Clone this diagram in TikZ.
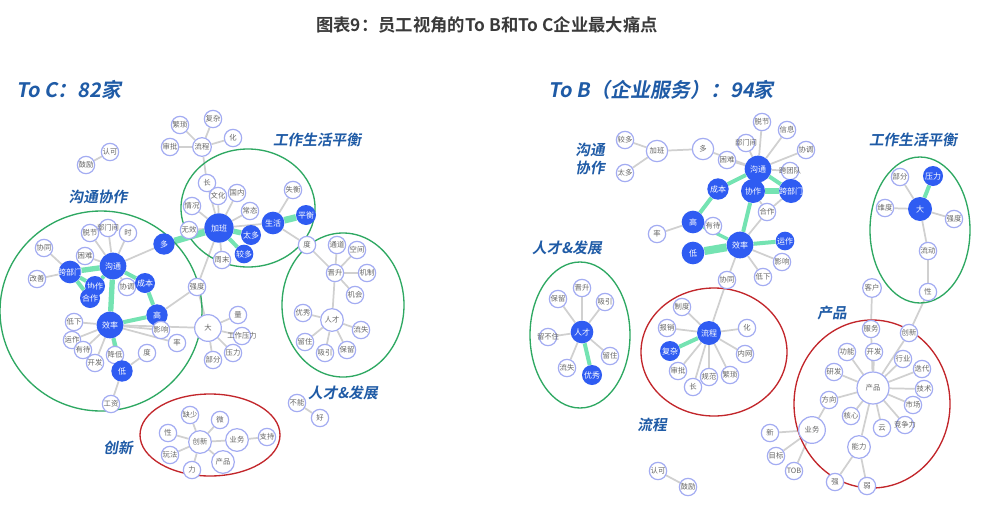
\documentclass[tikz,border=0pt]{standalone}
\usepackage{fontspec}
\setmainfont{Noto Sans CJK SC}[BoldFont={Noto Sans CJK SC Bold}]
\newfontfamily\headfont{Noto Sans CJK SC Bold}[FakeSlant=0.18]
\usetikzlibrary{graphs,backgrounds}
\definecolor{hubblue}{HTML}{2F5CF2}
\definecolor{ringblue}{HTML}{A3ACF2}
\definecolor{wordgray}{HTML}{666666}
\definecolor{mint}{HTML}{74E3B2}
\definecolor{linkgray}{HTML}{D0D0D0}
\definecolor{headblue}{HTML}{1F5BA6}
\definecolor{okgreen}{HTML}{2EA862}
\definecolor{badred}{HTML}{C2262B}
\definecolor{titlegray}{HTML}{3A3A3A}
\tikzset{
    word/.style={circle, draw=ringblue, line width=0.9pt, fill=white, inner sep=0pt,
        minimum size=#1, text=wordgray, font=\fontsize{5.5}{6}\selectfont},
    word/.default=13pt,
    hub/.style={circle, fill=hubblue, inner sep=0pt, minimum size=#1,
        text=white, font=\fontsize{6}{7}\selectfont},
    hub/.default=15pt,
    link/.style={draw=linkgray, line width=1.3pt},
    bond/.style={draw=mint, line width=#1},
    bond/.default=3pt,
    zone/.style={draw=okgreen, line width=1pt},
    alarm/.style={draw=badred, line width=1pt},
    tag/.style={text=headblue, font=\headfont\fontsize{11}{13}\selectfont},
}

\begin{document}
\begin{tikzpicture}[x=0.75pt, y=-0.75pt]
    \useasboundingbox (0,0) rectangle (1003,529);

    % titles
    \node[text=titlegray, font=\bfseries\fontsize{13}{15}\selectfont] (title) at (487,25) {图表9：员工视角的To B和To C企业最大痛点};
    \node[tag, anchor=west, font=\headfont\fontsize{15}{17}\selectfont] (headC) at (12,90) {To C：82家};
    \node[tag, anchor=west, font=\headfont\fontsize{15}{17}\selectfont] (headB) at (544,90) {To B（企业服务）：94家};

    % ---- To C ----
    \node[tag] (tagCgt) at (98,197) {沟通协作};
    \node[tag] (tagCph) at (317,140) {工作生活平衡};
    \node[tag] (tagCrc) at (343,393) {人才\&发展};
    \node[tag] (tagCcx) at (118,448) {创新};

    \draw[zone] (101,311) ellipse [x radius=101, y radius=100];
    \draw[zone] (248,208) ellipse [x radius=67, y radius=59];
    \draw[zone] (343,305) ellipse [x radius=61, y radius=72];
    \draw[alarm] (210,435) ellipse [x radius=70, y radius=41];

    \node[word] (cRK) at (110,152) {认可};
    \node[word] (cGL) at (86,165) {鼓励};
    \node[word] (cFS) at (180,125) {繁琐};
    \node[word] (cFZ) at (213,119) {复杂};
    \node[word] (cSP) at (170,147) {审批};
    \node[word] (cH) at (233,138) {化};
    \node[word=14pt] (cLC) at (202,147) {流程};
    \node[word] (cC) at (207,183) {长};
    \node[word] (cQK) at (192,206) {情况};
    \node[word] (cWH) at (218,196) {文化};
    \node[word] (cGN) at (237,193) {国内};
    \node[word] (cCT) at (250,211) {常态};
    \node[word] (cWX) at (189,230) {无效};
    \node[hub=22pt] (cJB) at (219,228) {加班};
    \node[hub=15pt] (cTD) at (251,235) {太多};
    \node[hub=14pt] (cJD) at (244,254) {较多};
    \node[word] (cZM) at (222,260) {周末};
    \node[hub=17pt] (cSH) at (273,223) {生活};
    \node[hub=15pt] (cPH) at (306,215) {平衡};
    \node[word] (cSHg) at (293,190) {失衡};
    \node[hub=16pt] (cD) at (164,244) {多};
    \node[word] (cDu) at (307,245) {度};
    \node[word] (cTDo) at (337,245) {通道};
    \node[word] (cKJ) at (357,250) {空间};
    \node[word] (cJS) at (335,273) {晋升};
    \node[word] (cJZ) at (367,273) {机制};
    \node[word] (cJH) at (355,295) {机会};
    \node[word=17pt] (cRC) at (332,320) {人才};
    \node[word] (cYX) at (303,313) {优秀};
    \node[word] (cLS) at (361,330) {流失};
    \node[word] (cLZ) at (305,342) {留住};
    \node[word] (cXY) at (325,353) {吸引};
    \node[word] (cBL) at (347,350) {保留};
    \node[word] (cQD) at (197,287) {强度};
    \node[word=20pt] (cDa) at (208,328) {大};
    \node[word] (cL) at (238,315) {量};
    \node[word] (cGZ) at (242,336) {\makebox[0pt]{工作压力}};
    \node[word] (cYL) at (233,353) {压力};
    \node[word] (cBF) at (213,360) {部分};
    \node[word] (cBN) at (297,403) {不能};
    \node[word] (cHao) at (320,418) {好};
    \node[word] (cXT) at (44,248) {协同};
    \node[word] (cKN) at (85,256) {困难};
    \node[word] (cBM) at (108,228) {\makebox[0pt]{部门间}};
    \node[word] (cShi) at (128,233) {时};
    \node[word] (cTJ) at (90,233) {脱节};
    \node[hub=20pt] (cGT) at (113,266) {沟通};
    \node[hub=17pt] (cKB) at (70,272) {\makebox[0pt]{跨部门}};
    \node[word] (cGS) at (37,279) {改善};
    \node[word] (cXTi) at (127,287) {协调};
    \node[hub=15pt] (cXZ) at (95,286) {协作};
    \node[hub=15pt] (cHZ) at (90,298) {合作};
    \node[hub=15pt] (cCB) at (145,283) {成本};
    \node[hub=16pt] (cGao) at (157,315) {高};
    \node[hub=20pt] (cXL) at (110,325) {效率};
    \node[word] (cDX) at (74,322) {低下};
    \node[word] (cYZ) at (72,340) {运作};
    \node[word] (cYD) at (83,350) {有待};
    \node[word] (cKF) at (95,363) {开发};
    \node[word] (cJDi) at (115,355) {降低};
    \node[hub=16pt] (cDi) at (122,371) {低};
    \node[word] (cDd) at (147,353) {度};
    \node[word] (cYXi) at (161,330) {影响};
    \node[word] (cLv) at (177,343) {率};
    \node[word] (cGZi) at (111,404) {工资};
    \node[word] (cQS) at (190,415) {缺少};
    \node[word] (cW) at (220,420) {微};
    \node[word] (cX) at (168,433) {性};
    \node[word=17pt] (cCX) at (200,442) {创新};
    \node[word=17pt] (cYW) at (237,440) {业务};
    \node[word] (cZC) at (267,437) {支持};
    \node[word] (cWF) at (170,455) {玩法};
    \node[word] (cLi) at (192,470) {力};
    \node[word=17pt] (cCP) at (223,462) {产品};

    % ---- To B ----
    \node[tag, align=center] (tagBgt) at (590,159) {沟通\\协作};
    \node[tag] (tagBrc) at (567,248) {人才\&发展};
    \node[tag] (tagBlc) at (652,425) {流程};
    \node[tag] (tagBph) at (913,140) {工作生活平衡};
    \node[tag] (tagBcp) at (832,313) {产品};

    \draw[zone] (580,335) ellipse [x radius=50, y radius=73];
    \draw[alarm] (714,352) ellipse [x radius=73, y radius=64];
    \draw[zone] (920,230) ellipse [x radius=50, y radius=73];
    \draw[alarm] (872,404) ellipse [x radius=78, y radius=84];

    \node[word] (bJD) at (625,140) {较多};
    \node[word=16pt] (bJB) at (657,151) {加班};
    \node[word] (bTD) at (625,173) {太多};
    \node[word=16pt] (bD) at (703,149) {多};
    \node[word] (bBM) at (746,143) {\makebox[0pt]{部门间}};
    \node[word] (bTJ) at (762,122) {脱节};
    \node[word] (bXX) at (787,130) {信息};
    \node[word] (bXT) at (806,150) {协调};
    \node[word] (bKN) at (727,160) {困难};
    \node[hub=20pt] (bGT) at (758,169) {沟通};
    \node[word] (bKT) at (790,171) {\makebox[0pt]{跨团队}};
    \node[hub=16pt] (bCB) at (718,189) {成本};
    \node[hub=18pt] (bXZ) at (753,191) {协作};
    \node[hub=18pt] (bKB) at (791,191) {\makebox[0pt]{跨部门}};
    \node[word] (bHZ) at (767,212) {合作};
    \node[hub=17pt] (bG) at (693,222) {高};
    \node[word] (bYD) at (713,226) {有待};
    \node[word] (bL) at (657,234) {率};
    \node[hub=20pt] (bXL) at (740,245) {效率};
    \node[hub=14pt] (bYZ) at (785,241) {运作};
    \node[hub=17pt] (bDi) at (693,253) {低};
    \node[word] (bYX) at (782,262) {影响};
    \node[word] (bXTo) at (727,280) {协同};
    \node[word] (bDX) at (763,277) {低下};
    \node[word] (bJS) at (582,288) {晋升};
    \node[word] (bBL) at (558,299) {保留};
    \node[word] (bXY) at (605,302) {吸引};
    \node[hub=17pt] (bRC) at (582,332) {人才};
    \node[word] (bLBZ) at (548,337) {\makebox[0pt]{留不住}};
    \node[word] (bLZ) at (610,356) {留住};
    \node[word] (bLS) at (567,368) {流失};
    \node[hub=15pt] (bYXo) at (592,375) {优秀};
    \node[word] (bZD) at (682,307) {制度};
    \node[word] (bBX) at (667,328) {报销};
    \node[hub=18pt] (bLC) at (709,333) {流程};
    \node[word] (bH) at (747,328) {化};
    \node[hub=15pt] (bFZ) at (670,351) {复杂};
    \node[word] (bNW) at (745,354) {内网};
    \node[word] (bSP) at (678,371) {审批};
    \node[word] (bC) at (693,387) {长};
    \node[word] (bGF) at (709,377) {规范};
    \node[word] (bFS) at (730,375) {繁琐};
    \node[word] (bBF) at (900,177) {部分};
    \node[hub=15pt] (bYL) at (933,176) {压力};
    \node[word] (bWD) at (885,208) {维度};
    \node[hub=18pt] (bDa) at (920,209) {大};
    \node[word] (bQD) at (954,219) {强度};
    \node[word] (bLD) at (928,251) {流动};
    \node[word] (bXing) at (928,292) {性};
    \node[word=14pt] (bKH) at (872,288) {客户};
    \node[word] (bFW) at (871,329) {服务};
    \node[word] (bCX) at (909,333) {创新};
    \node[word] (bGN) at (847,352) {功能};
    \node[word] (bKF) at (874,352) {开发};
    \node[word] (bHY) at (903,359) {行业};
    \node[word] (bDD) at (922,369) {迭代};
    \node[word] (bYF) at (834,372) {研发};
    \node[word=24pt] (bCP) at (873,388) {产品};
    \node[word] (bJSh) at (924,389) {技术};
    \node[word] (bFX) at (829,400) {方向};
    \node[word] (bSC) at (913,405) {市场};
    \node[word] (bHX) at (851,416) {核心};
    \node[word] (bY) at (882,428) {云};
    \node[word] (bJZL) at (905,425) {\makebox[0pt]{竞争力}};
    \node[word=20pt] (bYW) at (812,430) {业务};
    \node[word] (bX) at (770,433) {新};
    \node[word] (bMB) at (776,456) {目标};
    \node[word] (bTOB) at (794,471) {TOB};
    \node[word=17pt] (bNL) at (859,447) {能力};
    \node[word] (bQ) at (835,482) {强};
    \node[word] (bR) at (867,486) {弱};
    \node[word] (bRK) at (658,471) {认可};
    \node[word] (bGL) at (688,487) {鼓励};

    \begin{scope}[on background layer]
        \fill[white] (0,0) rectangle (1003,529);
        \graph[use existing nodes, edges=link] {
            cRK -- cGL;
            cLC -- {cFS, cFZ, cSP, cH, cC};
            cC -- cJB;
            cJB -- {cQK, cWH, cGN, cCT, cWX, cZM, cSH, cQD};
            cSH -- {cSHg, cDu};
            cDu -- cJS;
            cJS -- {cTDo, cKJ, cJZ, cJH, cRC};
            cRC -- {cYX, cLS, cLZ, cXY, cBL};
            cQD -- {cGao, cDa};
            cDa -- {cL, cGZ, cYL, cBF};
            cGT -- {cKN, cBM, cShi, cTJ, cXTi, cD};
            cKB -- {cXT, cGS};
            cXL -- {cDX, cYZ, cYD, cKF, cJDi, cYXi, cLv, cDa};
            cDi -- {cDd, cGZi};
            cBN -- cHao;
            cCX -- {cQS, cW, cX, cWF, cLi, cCP, cYW};
            cYW -- cZC;
            bJD -- bJB; bTD -- bJB; bJB -- bD; bD -- bGT;
            bGT -- {bBM, bTJ, bXX, bXT, bKN, bKT};
            bHZ -- {bKB, bXZ, bXL};
            bG -- {bL, bYD};
            bXL -- {bYX, bDX, bXTo};
            bXTo -- bLC;
            bLC -- {bZD, bBX, bH, bNW, bSP, bC, bGF, bFS};
            bRC -- {bJS, bBL, bXY, bLBZ, bLZ, bLS};
            bDa -- {bBF, bWD, bQD, bLD};
            bLD -- bXing -- bCX;
            bKH -- bFW -- bCP;
            bCP -- {bCX, bGN, bKF, bHY, bDD, bYF, bJSh, bFX, bSC, bHX, bY, bJZL, bNL};
            bFX -- bYW;
            bYW -- {bX, bMB, bTOB};
            bNL -- {bQ, bR};
            bRK -- bGL;
        };
        \graph[use existing nodes] {
            cJB --[bond=5pt] cD;
            cJB --[bond=4pt] cTD;
            cJB --[bond=3pt] cJD;
            cSH --[bond=5pt] cPH;
            cGT --[bond=4pt] cKB;
            cGT --[bond=3pt] cXZ;
            cKB --[bond=3pt] cXZ;
            cKB --[bond=3pt] cHZ;
            cGT --[bond=4pt] cXL;
            cGT --[bond=3pt] cCB;
            cCB --[bond=3pt] cGao;
            cGao --[bond=3pt] cXL;
            cXL --[bond=3pt] cDi;
            bGT --[bond=4pt] bXZ;
            bGT --[bond=3pt] bKB;
            bXZ --[bond=4pt] bKB;
            bCB --[bond=3pt] bGT;
            bCB --[bond=3pt] bG;
            bXZ --[bond=3pt] bXL;
            bXL --[bond=6pt] bDi;
            bXL --[bond=3pt] bYZ;
            bG --[bond=2.5pt] bXL;
            bRC --[bond=3pt] bYXo;
            bLC --[bond=3pt] bFZ;
            bDa --[bond=3pt] bYL;
        };
    \end{scope}
\end{tikzpicture}
\end{document}
